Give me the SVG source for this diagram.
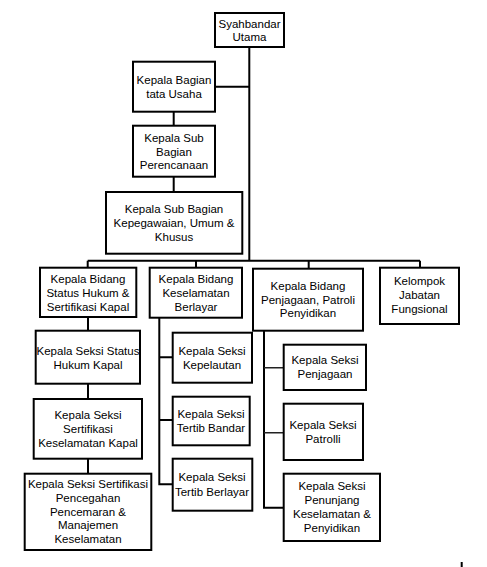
<svg xmlns="http://www.w3.org/2000/svg" width="487" height="567" viewBox="0 0 487 567">
<style>
rect{fill:#fff;stroke:#000;stroke-width:2}
text{font-family:"Liberation Sans",Arial,sans-serif;font-size:11.5px;fill:#000;text-anchor:middle}
.c{stroke:#000;stroke-width:2;fill:none}
.t{stroke:#222;stroke-width:1.5;fill:none}
</style>
<rect x="0" y="0" width="487" height="567" style="stroke:none"/>
<g id="connectors">
<path class="c" d="M249.3 47V260.7M215 86.7H249.3M173.7 111.7V125.7M173.7 176.7V192M87.7 260.7H420M87.7 260.7V267.7M196 260.7V267.7M308.7 260.7V268.7M420 260.7V267.7"/>
<path class="c" d="M88 317V330.7M88 383.7V399M88 458.7V473.7"/>
<path class="c" d="M159.3 317.7V484.3H172.7M159.3 357.3H172.7M159.3 420H172.7"/>
<path class="c" d="M264 330.7V507.7H283.7"/>
<path class="t" d="M264 367.7H283.7M264 432.7H283.7"/>
<path class="c" d="M461.7 562V567"/>
</g>
<g id="n1"><rect x="215" y="13" width="69" height="34"/><text x="249.5" y="28">Syahbandar</text><text x="249.5" y="41">Utama</text></g>
<g id="n2"><rect x="133" y="61.7" width="82" height="50"/><text x="174" y="84">Kepala Bagian</text><text x="174" y="97.7">tata Usaha</text></g>
<g id="n3"><rect x="133" y="125.7" width="82" height="51"/><text x="174" y="141.7">Kepala Sub</text><text x="174" y="155.7">Bagian</text><text x="174" y="169.3">Perencanaan</text></g>
<g id="n4"><rect x="106" y="192" width="136.3" height="61.7"/><text x="174" y="213.3">Kepala Sub Bagian</text><text x="174" y="226.7">Kepegawaian, Umum &amp;</text><text x="174" y="240.7">Khusus</text></g>
<g id="n5"><rect x="40" y="267.7" width="96.3" height="49.3"/><text x="88" y="282.7">Kepala Bidang</text><text x="88" y="296.7">Status Hukum &amp;</text><text x="88" y="310.7">Sertifikasi Kapal</text></g>
<g id="n6"><rect x="149.7" y="267.7" width="92.3" height="50"/><text x="196" y="282.7">Kepala Bidang</text><text x="196" y="296.7">Keselamatan</text><text x="196" y="310.7">Berlayar</text></g>
<g id="n7"><rect x="253" y="268.7" width="110" height="62"/><text x="308" y="290">Kepala Bidang</text><text x="308" y="304">Penjagaan, Patroli</text><text x="308" y="317.3">Penyidikan</text></g>
<g id="n8"><rect x="380" y="267.7" width="79" height="56.3"/><text x="419.5" y="285.3">Kelompok</text><text x="419.5" y="299.3">Jabatan</text><text x="419.5" y="313.3">Fungsional</text></g>
<g id="n9"><rect x="35.7" y="330.7" width="104.3" height="53"/><text x="88" y="355">Kepala Seksi Status</text><text x="88" y="369">Hukum Kapal</text></g>
<g id="n10"><rect x="33.7" y="399" width="108.3" height="59.7"/><text x="88" y="419">Kepala Seksi</text><text x="88" y="433">Sertifikasi</text><text x="88" y="447">Keselamatan Kapal</text></g>
<g id="n11"><rect x="24.7" y="473.7" width="126.6" height="76.3"/><text x="88" y="487.7">Kepala Seksi Sertifikasi</text><text x="88" y="501.7">Pencegahan</text><text x="88" y="515.7">Pencemaran &amp;</text><text x="88" y="529.3">Manajemen</text><text x="88" y="543.3">Keselamatan</text></g>
<g id="n12"><rect x="172.7" y="332.7" width="79.3" height="50"/><text x="212" y="355">Kepala Seksi</text><text x="212" y="369">Kepelautan</text></g>
<g id="n13"><rect x="172.7" y="396.7" width="77" height="48.6"/><text x="211" y="417.7">Kepala Seksi</text><text x="211" y="431.7">Tertib Bandar</text></g>
<g id="n14"><rect x="172.7" y="458.7" width="79.6" height="52"/><text x="212" y="481.3">Kepala Seksi</text><text x="212" y="495.7">Tertib Berlayar</text></g>
<g id="n15"><rect x="283.7" y="344.7" width="82.3" height="45.3"/><text x="325" y="364">Kepala Seksi</text><text x="325" y="377.7">Penjagaan</text></g>
<g id="n16"><rect x="283.7" y="403.7" width="79.3" height="56.3"/><text x="323" y="429.3">Kepala Seksi</text><text x="323" y="442.7">Patrolli</text></g>
<g id="n17"><rect x="283.7" y="473.7" width="96.3" height="67.3"/><text x="332" y="490">Kepala Seksi</text><text x="332" y="504.3">Penunjang</text><text x="332" y="518">Keselamatan &amp;</text><text x="332" y="532">Penyidikan</text></g>
</svg>
